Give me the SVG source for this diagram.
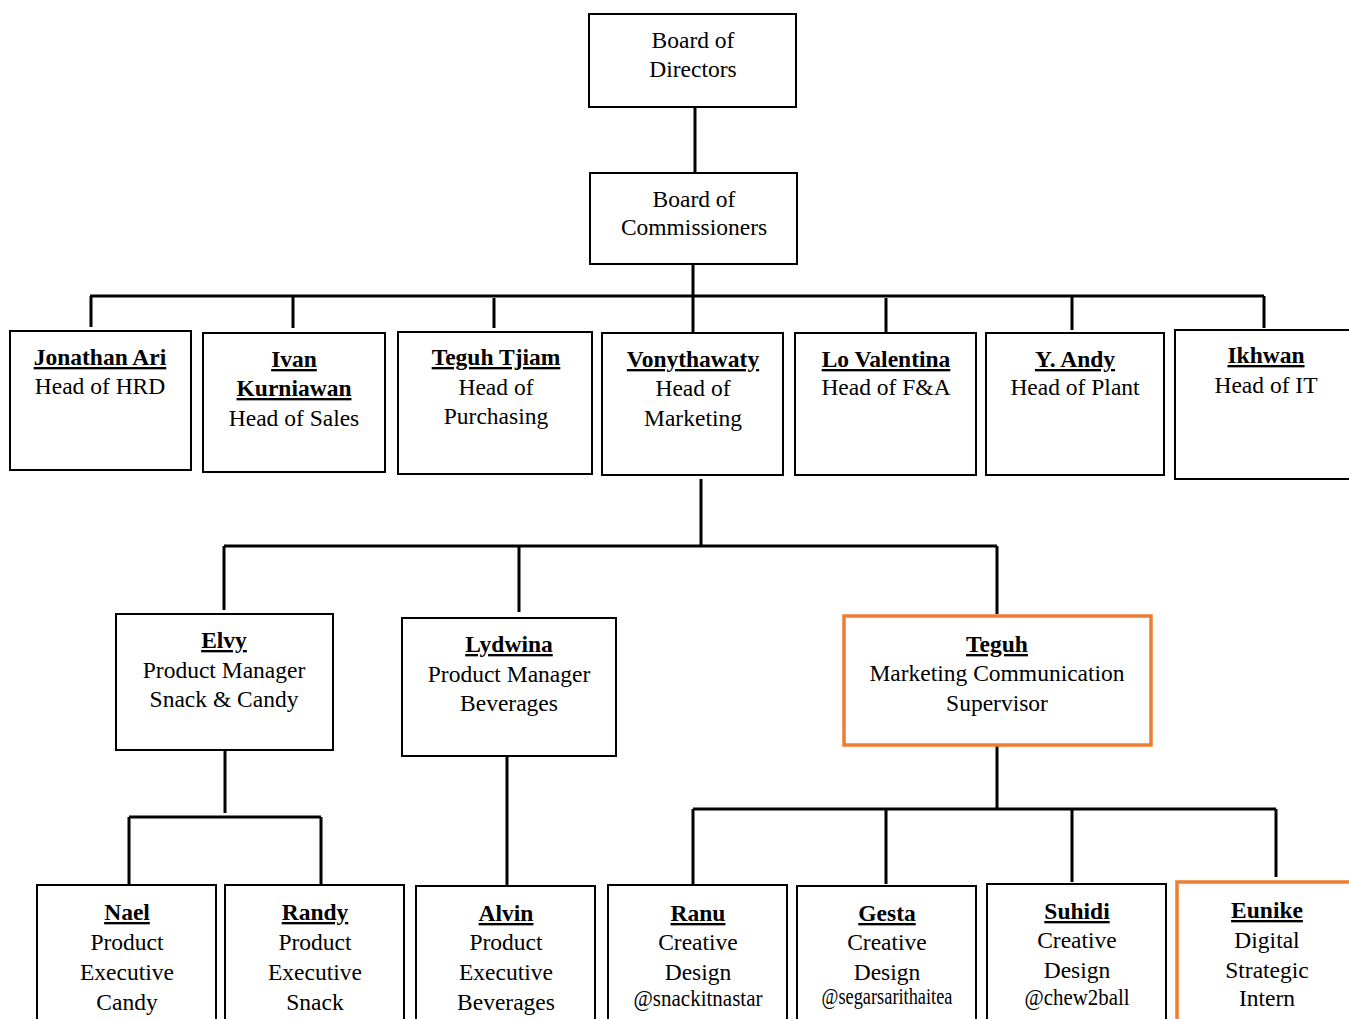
<svg xmlns="http://www.w3.org/2000/svg" width="1349" height="1019" viewBox="0 0 1349 1019">
<style>
.box{fill:#fff;stroke:#000;stroke-width:2}
.hl{fill:#fff;stroke:#ED7D31;stroke-width:3.5}
text{font-family:"Liberation Serif","Times New Roman",serif;font-size:23.5px;fill:#000;text-anchor:middle}
.n{font-weight:bold;text-decoration:underline}
.c{fill:none;stroke:#000;stroke-width:3}
</style>
<rect width="1349" height="1019" fill="#fff"/>
<g id="connectors" class="c">
<path d="M695 107V175M693 264V296M90 296H1264M91 296V327M293 296V328M494 298V328M693 296V332M886 298V332M1072 296V330M1264 296V328"/>
<path d="M701 479V546M224 546H997M224 546V610M519 546V612M997 546V614"/>
<path d="M225 750V813M129 817H321M129 817V884M321 817V884"/>
<path d="M507 756V886"/>
<path d="M997 745V808M693 809H1276M693 809V884M886 809V884M1072 809V882M1276 809V877"/>
</g>
<g id="board-directors"><rect class="box" x="589" y="14" width="207" height="93"/><text x="693" y="48">Board of</text><text x="693" y="77">Directors</text></g>
<g id="board-commissioners"><rect class="box" x="590" y="173" width="207" height="91"/><text x="694" y="207">Board of</text><text x="694" y="235">Commissioners</text></g>
<g id="jonathan"><rect class="box" x="10" y="331" width="181" height="139"/><text class="n" x="100" y="365">Jonathan Ari</text><text x="100" y="394">Head of HRD</text></g>
<g id="ivan"><rect class="box" x="203" y="333" width="182" height="139"/><text class="n" x="294" y="367">Ivan</text><text class="n" x="294" y="396">Kurniawan</text><text x="294" y="426">Head of Sales</text></g>
<g id="teguh-tjiam"><rect class="box" x="398" y="332" width="194" height="142"/><text class="n" x="496" y="365">Teguh Tjiam</text><text x="496" y="395">Head of</text><text x="496" y="424">Purchasing</text></g>
<g id="vonythawaty"><rect class="box" x="602" y="333" width="181" height="142"/><text class="n" x="693" y="367">Vonythawaty</text><text x="693" y="396">Head of</text><text x="693" y="426">Marketing</text></g>
<g id="lo-valentina"><rect class="box" x="795" y="333" width="181" height="142"/><text class="n" x="886" y="367">Lo Valentina</text><text x="886" y="395">Head of F&amp;A</text></g>
<g id="y-andy"><rect class="box" x="986" y="333" width="178" height="142"/><text class="n" x="1075" y="367">Y. Andy</text><text x="1075" y="395">Head of Plant</text></g>
<g id="ikhwan"><rect class="box" x="1175" y="330" width="180" height="149"/><text class="n" x="1266" y="363">Ikhwan</text><text x="1266" y="393">Head of IT</text></g>
<g id="elvy"><rect class="box" x="116" y="614" width="217" height="136"/><text class="n" x="224" y="648">Elvy</text><text x="224" y="678">Product Manager</text><text x="224" y="707">Snack &amp; Candy</text></g>
<g id="lydwina"><rect class="box" x="402" y="618" width="214" height="138"/><text class="n" x="509" y="652">Lydwina</text><text x="509" y="682">Product Manager</text><text x="509" y="711">Beverages</text></g>
<g id="teguh"><rect class="hl" x="844" y="616" width="307" height="129"/><text class="n" x="997" y="652">Teguh</text><text x="997" y="681">Marketing Communication</text><text x="997" y="711">Supervisor</text></g>
<g id="nael"><rect class="box" x="37" y="885" width="179" height="140"/><text class="n" x="127" y="920">Nael</text><text x="127" y="950">Product</text><text x="127" y="980">Executive</text><text x="127" y="1010">Candy</text></g>
<g id="randy"><rect class="box" x="225" y="885" width="179" height="140"/><text class="n" x="315" y="920">Randy</text><text x="315" y="950">Product</text><text x="315" y="980">Executive</text><text x="315" y="1010">Snack</text></g>
<g id="alvin"><rect class="box" x="416" y="886" width="179" height="140"/><text class="n" x="506" y="921">Alvin</text><text x="506" y="950">Product</text><text x="506" y="980">Executive</text><text x="506" y="1010">Beverages</text></g>
<g id="ranu"><rect class="box" x="608" y="885" width="179" height="140"/><text class="n" x="698" y="921">Ranu</text><text x="698" y="950">Creative</text><text x="698" y="980">Design</text><text x="698" y="1006" font-size="19" textLength="129" lengthAdjust="spacingAndGlyphs">@snackitnastar</text></g>
<g id="gesta"><rect class="box" x="797" y="886" width="179" height="140"/><text class="n" x="887" y="921">Gesta</text><text x="887" y="950">Creative</text><text x="887" y="980">Design</text><text x="887" y="1004" font-size="17" textLength="131" lengthAdjust="spacingAndGlyphs">@segarsarithaitea</text></g>
<g id="suhidi"><rect class="box" x="987" y="884" width="179" height="140"/><text class="n" x="1077" y="919">Suhidi</text><text x="1077" y="948">Creative</text><text x="1077" y="978">Design</text><text x="1077" y="1005" font-size="20" textLength="105" lengthAdjust="spacingAndGlyphs">@chew2ball</text></g>
<g id="eunike"><rect class="hl" x="1177" y="882" width="180" height="145"/><text class="n" x="1267" y="918">Eunike</text><text x="1267" y="948">Digital</text><text x="1267" y="978">Strategic</text><text x="1267" y="1006">Intern</text></g>
</svg>
